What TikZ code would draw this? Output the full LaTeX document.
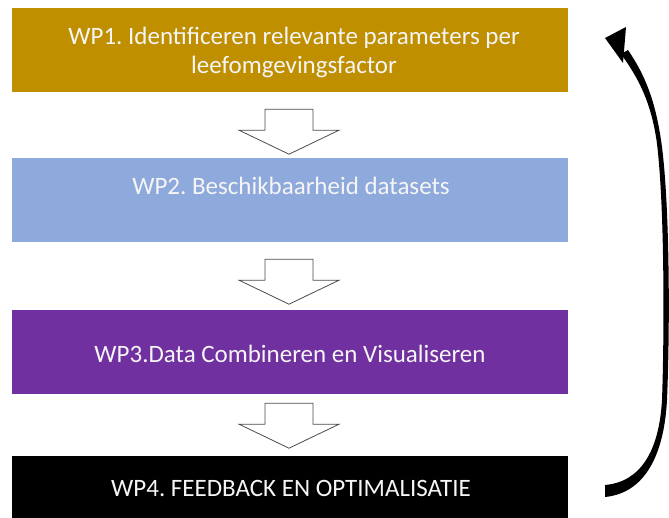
\documentclass[tikz,border=0pt]{standalone}
\usepackage{fontspec}
\setmainfont{Carlito}
\usetikzlibrary{calc}
\definecolor{wpgold}{HTML}{BF8F00}
\definecolor{wpblue}{HTML}{8EA9DB}
\definecolor{wppurple}{HTML}{7030A0}
\frenchspacing
\newcommand{\wpblockarrow}[2]{% #1 = coordinate at centre of shaft top, #2 = name
  \coordinate (#2) at (#1);
  \draw[blockarr] ($(#2)+(-24,0)$) -- ($(#2)+(24,0)$) -- ($(#2)+(24,21)$)
    -- ($(#2)+(50,21)$) -- ($(#2)+(0,45)$) -- ($(#2)+(-50,21)$)
    -- ($(#2)+(-24,21)$) -- cycle;}
\begin{document}
\begin{tikzpicture}[x=1pt,y=-1pt,
  wpbox/.style={rectangle, draw=none, minimum width=556pt, inner sep=0pt},
  wptext/.style={text=white!96!black, font=\fontsize{25}{29}\selectfont, align=center, inner sep=0pt},
  blockarr/.style={draw=black!70, fill=white, line width=0.8pt, line join=miter}]
\useasboundingbox (0,0) rectangle (669,517);
\fill[white] (0,0) rectangle (669,517);
% boxes
\node[wpbox, fill=wpgold, minimum height=84pt] (b1) at (290,50) {};
\node[wpbox, fill=wpblue, minimum height=84pt] (b2) at (290,200) {};
\node[wpbox, fill=wppurple, minimum height=84pt] (b3) at (290,352) {};
\node[wpbox, fill=black, minimum height=62pt] (b4) at (290,487) {};
% texts
\node[wptext] (t1) at (294,52) {WP1. Identificeren relevante parameters per\\leefomgevingsfactor};
\node[wptext, anchor=base] (t2) at (291,194) {WP2. Beschikbaarheid datasets};
\node[wptext, anchor=base] (t3) at (290,362) {WP3.Data Combineren en Visualiseren};
\node[wptext, anchor=base] (t4) at (291,496) {WP4. FEEDBACK EN OPTIMALISATIE};
% block arrows between the boxes
\coordinate (p1) at ($(b1.south)+(-1,17)$);
\coordinate (p2) at ($(b2.south)+(-1,17)$);
\coordinate (p3) at ($(b3.south)+(-1,9)$);
\wpblockarrow{p1}{a1}
\wpblockarrow{p2}{a2}
\wpblockarrow{p3}{a3}
% feedback arrow (tapered body + head)
\coordinate (fbstart) at (605,491);
\coordinate (fbend) at (605,38);
\fill[black] (605,497) .. controls (645,493) and (664,455) .. (667,400)
  .. controls (670,330) and (670,200) .. (661,140)
  .. controls (655,100) and (645,75) .. (628,50)
  -- (621,54)
  .. controls (640,80) and (651,104) .. (656.5,140)
  .. controls (664.5,200) and (664.5,330) .. (662,400)
  .. controls (659,452) and (640,482) .. (605,485) -- cycle;
\fill[black] (fbend) -- (626,27) -- (623,63) -- cycle;
\end{tikzpicture}
\end{document}
